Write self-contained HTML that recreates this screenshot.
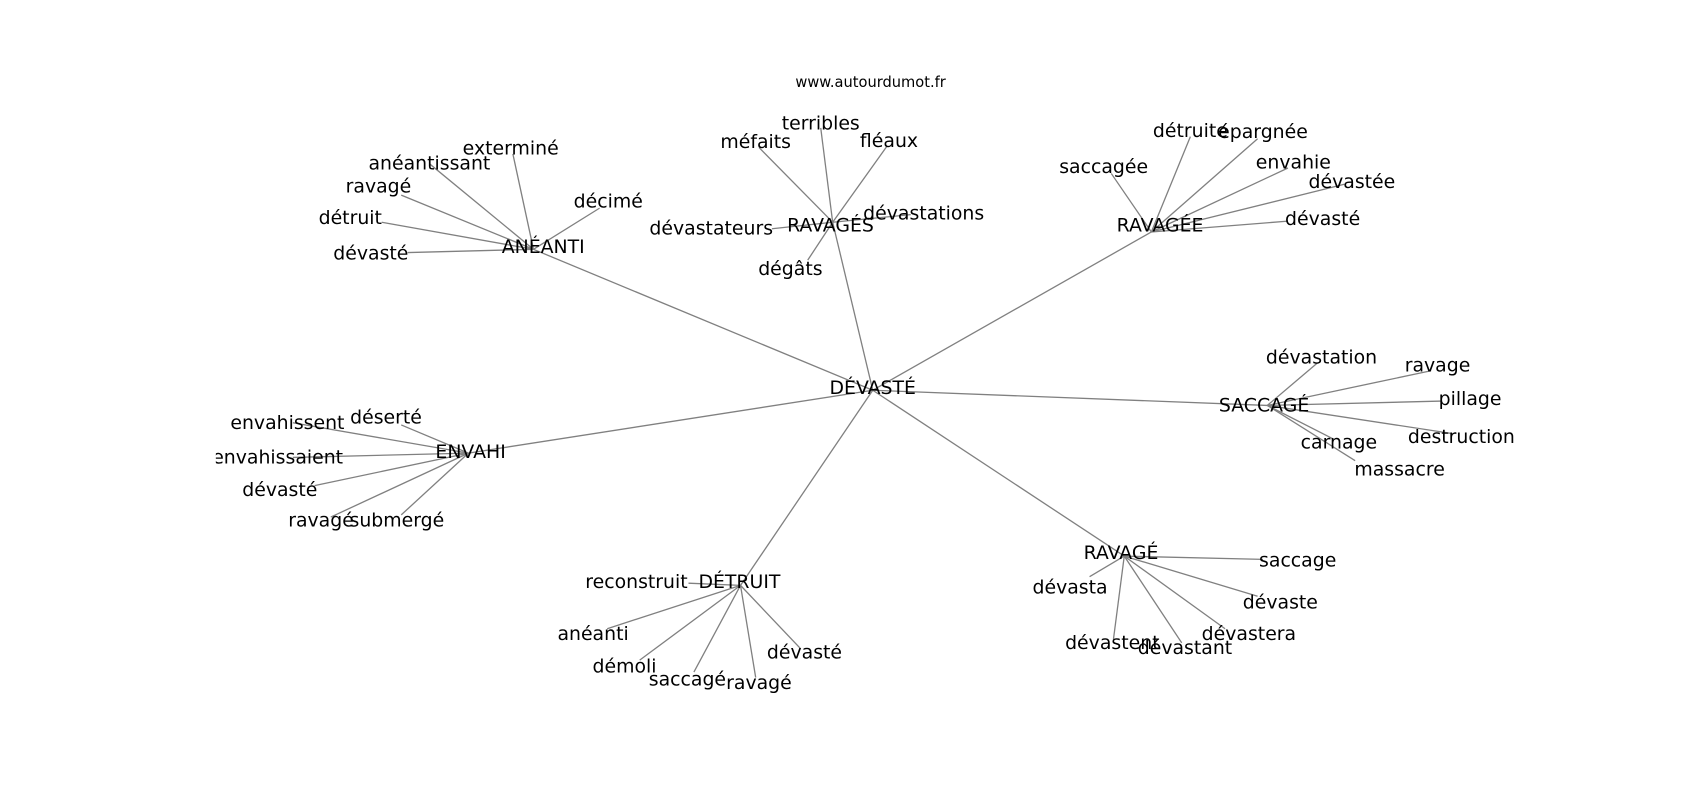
<!DOCTYPE html>
<html><head><meta charset="utf-8"><style>
html,body{margin:0;padding:0;background:#fff;}
svg{display:block;}
text{font-family:"DejaVu Sans","Liberation Sans",sans-serif;font-size:17.4px;fill:#000;text-anchor:middle;dominant-baseline:central;}
</style></head><body>
<svg width="1700" height="800" viewBox="0 0 1568 738" xmlns="http://www.w3.org/2000/svg">
<defs><clipPath id="c"><rect x="199" y="0" width="1369" height="738"/></clipPath></defs>
<g stroke="#808080" stroke-width="1.2" fill="none" clip-path="url(#c)">
<line x1="805" y1="360" x2="492" y2="230"/>
<line x1="805" y1="360" x2="768" y2="205"/>
<line x1="805" y1="360" x2="1062" y2="214"/>
<line x1="805" y1="360" x2="1169" y2="374"/>
<line x1="805" y1="360" x2="432" y2="418"/>
<line x1="805" y1="360" x2="683" y2="540"/>
<line x1="805" y1="360" x2="1037" y2="513"/>
<!-- ANEANTI -->
<line x1="492" y1="230" x2="473" y2="142"/>
<line x1="492" y1="230" x2="396" y2="151"/>
<line x1="492" y1="230" x2="370" y2="180"/>
<line x1="492" y1="230" x2="352" y2="205"/>
<line x1="492" y1="230" x2="376" y2="233"/>
<line x1="492" y1="230" x2="553" y2="192"/>
<!-- RAVAGES -->
<line x1="768" y1="205" x2="757" y2="118"/>
<line x1="768" y1="205" x2="700" y2="136"/>
<line x1="768" y1="205" x2="818" y2="135"/>
<line x1="768" y1="205" x2="840" y2="198"/>
<line x1="768" y1="205" x2="712" y2="211"/>
<line x1="768" y1="205" x2="745" y2="240"/>
<!-- RAVAGEE -->
<line x1="1062" y1="214" x2="1025" y2="160"/>
<line x1="1062" y1="214" x2="1098" y2="126"/>
<line x1="1062" y1="214" x2="1160" y2="128"/>
<line x1="1062" y1="214" x2="1188" y2="155"/>
<line x1="1062" y1="214" x2="1240" y2="170"/>
<line x1="1062" y1="214" x2="1188" y2="204"/>
<!-- SACCAGE -->
<line x1="1169" y1="374" x2="1215" y2="335"/>
<line x1="1169" y1="374" x2="1320" y2="342"/>
<line x1="1169" y1="374" x2="1330" y2="370"/>
<line x1="1169" y1="374" x2="1340" y2="400"/>
<line x1="1169" y1="374" x2="1230" y2="405"/>
<line x1="1169" y1="374" x2="1250" y2="425"/>
<!-- ENVAHI -->
<line x1="432" y1="418" x2="270" y2="390"/>
<line x1="432" y1="418" x2="370" y2="392"/>
<line x1="432" y1="418" x2="270" y2="422"/>
<line x1="432" y1="418" x2="290" y2="448"/>
<line x1="432" y1="418" x2="305" y2="477"/>
<line x1="432" y1="418" x2="370" y2="475"/>
<!-- DETRUIT -->
<line x1="683" y1="540" x2="635" y2="538"/>
<line x1="683" y1="540" x2="560" y2="580"/>
<line x1="683" y1="540" x2="590" y2="609"/>
<line x1="683" y1="540" x2="640" y2="620"/>
<line x1="683" y1="540" x2="697" y2="625"/>
<line x1="683" y1="540" x2="738" y2="598"/>
<!-- RAVAGE -->
<line x1="1037" y1="513" x2="1165" y2="516"/>
<line x1="1037" y1="513" x2="1005" y2="532"/>
<line x1="1037" y1="513" x2="1160" y2="550"/>
<line x1="1037" y1="513" x2="1130" y2="580"/>
<line x1="1037" y1="513" x2="1027" y2="590"/>
<line x1="1037" y1="513" x2="1090" y2="593"/>
</g>
<g clip-path="url(#c)">
<text x="803" y="76" style="font-size:13.5px">www.autourdumot.fr</text>
<text x="805" y="358">DÉVASTÉ</text>
<text x="501" y="228">ANÉANTI</text>
<text x="471" y="137">exterminé</text>
<text x="396" y="151">anéantissant</text>
<text x="349" y="172">ravagé</text>
<text x="323" y="201">détruit</text>
<text x="342" y="234">dévasté</text>
<text x="561" y="186">décimé</text>
<text x="766" y="208">RAVAGÉS</text>
<text x="757" y="114">terribles</text>
<text x="697" y="131">méfaits</text>
<text x="820" y="130">fléaux</text>
<text x="852" y="197">dévastations</text>
<text x="656" y="211">dévastateurs</text>
<text x="729" y="248">dégâts</text>
<text x="1070" y="208">RAVAGÉE</text>
<text x="1018" y="154">saccagée</text>
<text x="1098" y="121">détruite</text>
<text x="1165" y="122">épargnée</text>
<text x="1193" y="150">envahie</text>
<text x="1247" y="168">dévastée</text>
<text x="1220" y="202">dévasté</text>
<text x="1166" y="374">SACCAGÉ</text>
<text x="1219" y="330">dévastation</text>
<text x="1326" y="337">ravage</text>
<text x="1356" y="368">pillage</text>
<text x="1348" y="403">destruction</text>
<text x="1235" y="408">carnage</text>
<text x="1291" y="433">massacre</text>
<text x="434" y="417">ENVAHI</text>
<text x="265" y="390">envahissent</text>
<text x="356" y="385">déserté</text>
<text x="256" y="422">envahissaient</text>
<text x="258" y="452">dévasté</text>
<text x="296" y="480">ravagé</text>
<text x="366" y="480">submergé</text>
<text x="682" y="537">DÉTRUIT</text>
<text x="587" y="537">reconstruit</text>
<text x="547" y="585">anéanti</text>
<text x="576" y="615">démoli</text>
<text x="634" y="627">saccagé</text>
<text x="700" y="630">ravagé</text>
<text x="742" y="602">dévasté</text>
<text x="1034" y="510">RAVAGÉ</text>
<text x="1197" y="517">saccage</text>
<text x="987" y="542">dévasta</text>
<text x="1181" y="556">dévaste</text>
<text x="1152" y="585">dévastera</text>
<text x="1026" y="593">dévastent</text>
<text x="1093" y="598">dévastant</text>
</g>
</svg>
</body></html>
